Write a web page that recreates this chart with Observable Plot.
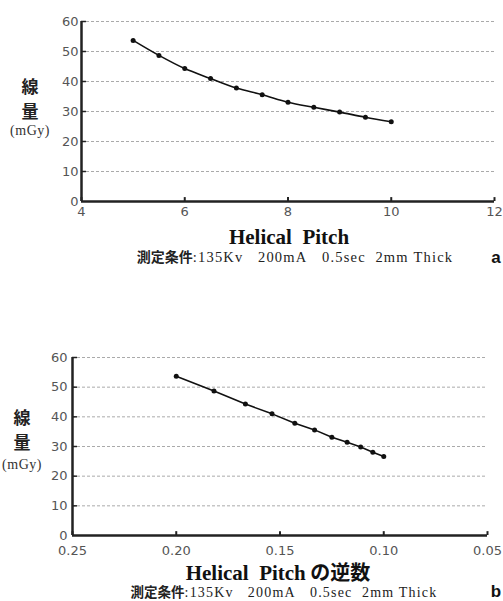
<!DOCTYPE html>
<html><head><meta charset="utf-8">
<script src="https://cdn.jsdelivr.net/npm/d3@7"></script>
<script src="https://cdn.jsdelivr.net/npm/@observablehq/plot@0.6"></script>
<style>
body{margin:0;background:#fff;}
#wrap{position:relative;width:503px;height:601px;}
#wrap svg{position:absolute;left:0;}
</style>
</head><body><div id="wrap"></div>
<script>
const pitch = [5, 5.5, 6, 6.5, 7, 7.5, 8, 8.5, 9, 9.5, 10];
const dose = [53.7, 48.7, 44.3, 41.0, 37.8, 35.6, 33.1, 31.4, 29.8, 28.1, 26.6];
const invPitch = pitch.map(p => 1 / p);
const yTicks = [0, 10, 20, 30, 40, 50, 60];
const xTicksA = [4, 6, 8, 10, 12];
const xTicksB = [0.25, 0.20, 0.15, 0.10, 0.05];
const yLabel = ["線", "量", "(mGy)"];
const xLabelA = "Helical\u00a0\u00a0Pitch";
const xLabelB = "Helical\u00a0\u00a0Pitch の逆数";
const captionJa = "測定条件";
const captionEn = ":135Kv\u00a0\u00a0\u00a0200mA\u00a0\u00a0\u00a00.5sec\u00a0\u00a02mm Thick";

const dataA = pitch.map((p, i) => ({x: p, y: dose[i]}));
const dataB = invPitch.map((p, i) => ({x: p, y: dose[i]}));

function panel(opts) {
  const {data, xDomain, xTicks, fmt, curve, width, height, ml, mr, mt, mb, padX, padY, tickLen} = opts;
  return Plot.plot({
    width, height, marginLeft: ml, marginRight: mr, marginTop: mt, marginBottom: mb,
    style: {background: "#fff", fontFamily: "'DejaVu Sans', sans-serif", fontSize: "13px", color: "#333"},
    x: {domain: xDomain},
    y: {domain: [0, 60]},
    marks: [
      Plot.ruleY(yTicks.filter(d => d > 0), {stroke: "#aaa", strokeWidth: 1, strokeDasharray: "3,2"}),
      Plot.ruleY(yTicks.filter(d => d > 0), {x1: xDomain[0], x2: xDomain[0] + (xDomain[1]-xDomain[0]) * tickLen, stroke: "#222", strokeWidth: 1.5}),
      Plot.ruleX(xTicks, {y1: 0, y2: 1.3, stroke: "#222", strokeWidth: 2}),
      Plot.ruleY([0], {stroke: "#222", strokeWidth: 2.5}),
      Plot.ruleX([xDomain[0]], {stroke: "#222", strokeWidth: 2.5}),
      Plot.axisY({ticks: yTicks, tickSize: 0, tickPadding: padY, tickFormat: d => d, fill: "#555", label: null}),
      Plot.axisX({ticks: xTicks, tickSize: 0, tickPadding: padX, tickFormat: fmt, fill: "#555", label: null}),
      Plot.line(data, {x: "x", y: "y", stroke: "#111", strokeWidth: 1.6, curve}),
      Plot.dot(data, {x: "x", y: "y", r: 2.5, fill: "#111", stroke: "none"})
    ]
  });
}

function addText(svg, cfg) {
  const s = d3.select(svg);
  const cjk = "'Noto Sans CJK JP', sans-serif";
  const serif = "'Liberation Serif', 'Times New Roman', serif";
  s.append("text").attr("x", cfg.yl.x).attr("y", cfg.yl.y1).attr("text-anchor", "middle")
    .style("font-family", cjk).style("font-weight", "bold").style("font-size", "17px").attr("fill", "#222").text(yLabel[0]);
  s.append("text").attr("x", cfg.yl.x).attr("y", cfg.yl.y2).attr("text-anchor", "middle")
    .style("font-family", cjk).style("font-weight", "bold").style("font-size", "17px").attr("fill", "#222").text(yLabel[1]);
  s.append("text").attr("x", cfg.yl.x).attr("y", cfg.yl.y3).attr("text-anchor", "middle")
    .style("font-family", serif).style("font-size", "14px").style("letter-spacing", "0.5px").attr("fill", "#333").text(yLabel[2]);
  const xl = s.append("text").attr("x", cfg.xl.x).attr("y", cfg.xl.y).attr("text-anchor", "middle")
    .style("font-weight", "bold").style("font-size", "21px").attr("fill", "#111");
  const parts = cfg.xl.text.split(" の");
  xl.append("tspan").style("font-family", serif).text(parts[0]);
  if (parts.length > 1) xl.append("tspan").style("font-family", cjk).style("font-size", "20px").text(" の" + parts[1]);
  const cap = s.append("text").attr("x", cfg.cap.x).attr("y", cfg.cap.y).attr("text-anchor", "middle").style("font-size", cfg.cap.size + "px").attr("fill", "#222");
  cap.append("tspan").style("font-family", cjk).style("font-weight", "bold").style("font-size", (cfg.cap.size - 0.5) + "px").text(captionJa);
  cap.append("tspan").style("font-family", serif).style("letter-spacing", "1.2px").text(captionEn);
  s.append("text").attr("x", cfg.letter.x).attr("y", cfg.letter.y).attr("text-anchor", "middle")
    .style("font-family", "'Liberation Sans', Arial, sans-serif").style("font-weight", "bold").style("font-size", "17px").attr("fill", "#111").text(cfg.letter.t);
}

const wrap = document.getElementById("wrap");
const a = panel({data: dataA, xDomain: [4, 12], xTicks: xTicksA, fmt: d => d, curve: "catmull-rom",
  width: 503, height: 300, ml: 81, mr: 9, mt: 21, mb: 99, padX: 5, padY: 3, tickLen: 0.012});
a.style.top = "0px";
addText(a, {yl: {x: 30, y1: 93, y2: 118, y3: 135}, xl: {x: 289, y: 244, text: xLabelA},
  cap: {x: 295, y: 262, size: 14.5}, letter: {x: 496, y: 263, t: "a"}});
wrap.appendChild(a);

const b = panel({data: dataB, xDomain: [0.25, 0.05], xTicks: xTicksB, fmt: d3.format(".2f"), curve: "linear",
  width: 503, height: 301, ml: 72, mr: 16, mt: 57, mb: 66, padX: 10, padY: 5, tickLen: 0.012});
b.style.top = "300px";
addText(b, {yl: {x: 22, y1: 124, y2: 149, y3: 169}, xl: {x: 278, y: 280, text: xLabelB},
  cap: {x: 284, y: 297, size: 14}, letter: {x: 496, y: 297, t: "b"}});
wrap.appendChild(b);
</script>
</body></html>
